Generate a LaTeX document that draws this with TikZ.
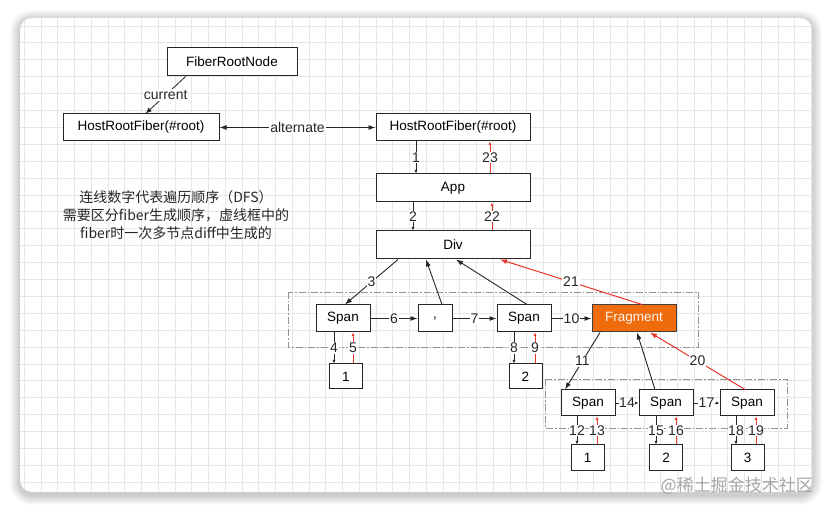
\documentclass[tikz,border=0pt]{standalone}
\usepackage{fontspec}
\setmainfont{Liberation Sans}
\newfontfamily\cjk{Noto Sans CJK SC}
\usetikzlibrary{arrows.meta,calc}
\definecolor{redl}{HTML}{E8332A}
\definecolor{frag}{HTML}{EE6C0C}
\definecolor{gridc}{HTML}{E6E6E6}
\begin{document}
\begin{tikzpicture}[x=1pt,y=-1pt,
  box/.style={draw=black!85, line width=1pt, fill=white, inner sep=0pt,
    font=\fontsize{13.5}{15}\selectfont, minimum height=27pt},
  lbl/.style={fill=white, inner sep=1pt, font=\fontsize{14}{15}\selectfont, text=black!85},
  blk/.style={draw=black!85, line width=0.9pt, -{Latex[length=7pt,width=5pt]}},
  sm/.style={draw=black!85, line width=0.8pt, -{Latex[length=3.5pt,width=3pt]}},
  rd/.style={draw=redl, line width=0.8pt, -{Latex[length=3.5pt,width=3pt]}},
  rdbig/.style={draw=redl, line width=1pt, -{Latex[length=7pt,width=5pt]}},
  dd/.style={draw=gray!85, dash pattern=on 7pt off 2pt on 1.5pt off 2pt, line width=0.8pt}
]
\useasboundingbox (0,0) rectangle (831,510);
\fill[white] (0,0) rectangle (831,510);
% shadow
\foreach \i in {1,...,10}{
  \fill[black, opacity=0.02, rounded corners={12pt+\i pt}] ({20-\i},{18-\i+2}) rectangle ({812+\i},{492+\i+3});
}
\fill[white, rounded corners=12pt] (20,18) rectangle (812,492);
\begin{scope}
  \clip[rounded corners=12pt] (20,18) rectangle (812,492);
  \foreach \k in {0,...,47}{
    \draw[gridc, line width=0.8pt] ({24.3+16.75*\k},18) -- ++(0,474);
  }
  \foreach \k in {0,...,28}{
    \draw[gridc, line width=0.8pt] (20,{26+16.9*\k}) -- ++(792,0);
  }
\end{scope}

% dashed groups
\draw[dd] (288,292) rectangle (698,347);
\draw[dd] (545,379) rectangle (787,428);

% nodes
\node[box, minimum width=130pt, minimum height=28pt] (frn) at (232,62) {FiberRootNode};
\node[box, minimum width=156pt] (hrfL) at (141,127.5) {HostRootFiber(\#root)};
\node[box, minimum width=154pt] (hrfR) at (453,127.5) {HostRootFiber(\#root)};
\node[box, minimum width=154pt, minimum height=28pt] (app) at (453,188) {App};
\node[box, minimum width=154pt, minimum height=28pt] (div) at (453,245) {Div};
\node[box, minimum width=54pt] (s1) at (343,318.5) {Span};
\node[box, minimum width=34pt] (cm) at (435,318.5) {,};
\node[box, minimum width=54pt] (s2) at (524,318.5) {Span};
\node[box, minimum width=84pt, fill=frag, draw=black!75, text=white!92!frag] (fr) at (634,318.5) {Fragment};
\node[box, minimum width=33pt, minimum height=25pt] (b1) at (346,376.5) {1};
\node[box, minimum width=33pt, minimum height=25pt] (b2) at (525.5,376.5) {2};
\node[box, minimum width=54pt, minimum height=26pt] (s3) at (588,403) {Span};
\node[box, minimum width=54pt, minimum height=26pt] (s4) at (666,403) {Span};
\node[box, minimum width=54pt, minimum height=26pt] (s5) at (747,403) {Span};
\node[box, minimum width=33pt, minimum height=26pt] (c1) at (587.5,458) {1};
\node[box, minimum width=33pt, minimum height=26pt] (c2) at (666,458) {2};
\node[box, minimum width=33pt, minimum height=26pt] (c3) at (747.5,458) {3};

% annotation
\node[align=center, font=\cjk\fontsize{14}{18}\selectfont, text=black!85] (note) at (176,215)
  {连线数字代表遍历顺序（DFS）\\需要区分fiber生成顺序，虚线框中的\\fiber时一次多节点diff中生成的};

% top connectors
\draw[sm, -{Latex[length=6pt,width=5pt]}] ($(frn.south west)!0.146!(frn.south east)$) -- ($(hrfL.north west)!0.53!(hrfL.north east)$)
  node[lbl, midway] {current};
\draw[blk, {Latex[length=7pt,width=5pt]}-{Latex[length=7pt,width=5pt]}] (hrfL.east) -- (hrfR.west)
  node[lbl, pos=0.5] {alternate};

% vertical spine
\draw[sm] ([xshift=-37pt]hrfR.south) -- ([xshift=-37pt]app.north) node[lbl, midway] {1};
\draw[rd] ([xshift=37pt]app.north) -- ([xshift=37pt]hrfR.south) node[lbl, midway] {23};
\draw[sm] ([xshift=-40pt]app.south) -- ([xshift=-40pt]div.north) node[lbl, midway] {2};
\draw[rd] ([xshift=39pt]div.north) -- ([xshift=39pt]app.south) node[lbl, midway] {22};

% Div children
\draw[blk] ([xshift=-55pt]div.south) -- ([xshift=2pt]s1.north) node[lbl, midway] {3};
\draw[blk] ([xshift=7pt]cm.north) -- ([xshift=-27pt]div.south);
\draw[blk] ([xshift=3pt]s2.north) -- ([xshift=3pt]div.south);
\draw[rdbig] ([xshift=8pt]fr.north) -- ([xshift=47pt]div.south) node[lbl, midway] {21};

\draw[blk] (s1.east) -- (cm.west) node[lbl, midway] {6};
\draw[blk] (cm.east) -- (s2.west) node[lbl, midway] {7};
\draw[blk] (s2.east) -- (fr.west) node[lbl, midway] {10};

\draw[sm] ([xshift=-9pt]s1.south) -- ([xshift=-12pt]b1.north) node[lbl, midway] {4};
\draw[rd] ([xshift=7pt]b1.north) -- ([xshift=10pt]s1.south) node[lbl, midway] {5};
\draw[sm] ([xshift=-10pt]s2.south) -- ([xshift=-11.5pt]b2.north) node[lbl, midway] {8};
\draw[rd] ([xshift=9.5pt]b2.north) -- ([xshift=11pt]s2.south) node[lbl, midway] {9};

% Fragment children
\draw[blk] ([xshift=-34pt]fr.south) -- ([xshift=-23pt]s3.north) node[lbl, midway] {11};
\draw[blk] ([xshift=-11pt]s4.north) -- ([xshift=3pt]fr.south);
\draw[rdbig] ([xshift=-2pt]s5.north) -- ([xshift=16pt]fr.south) node[lbl, midway] {20};

\draw[sm] (s3.east) -- (s4.west) node[lbl, midway, inner sep=0.3pt] {14};
\draw[sm] (s4.east) -- (s5.west) node[lbl, midway, inner sep=0.3pt] {17};

\draw[sm] ([xshift=-11pt]s3.south) -- ([xshift=-10.5pt]c1.north) node[lbl, midway, inner sep=0.3pt] {12};
\draw[rd] ([xshift=9.5pt]c1.north) -- ([xshift=9pt]s3.south) node[lbl, midway, inner sep=0.3pt] {13};
\draw[sm] ([xshift=-10pt]s4.south) -- ([xshift=-10pt]c2.north) node[lbl, midway, inner sep=0.3pt] {15};
\draw[rd] ([xshift=10pt]c2.north) -- ([xshift=10pt]s4.south) node[lbl, midway, inner sep=0.3pt] {16};
\draw[sm] ([xshift=-11pt]s5.south) -- ([xshift=-11.5pt]c3.north) node[lbl, midway, inner sep=0.3pt] {18};
\draw[rd] ([xshift=8.5pt]c3.north) -- ([xshift=9pt]s5.south) node[lbl, midway, inner sep=0.3pt] {19};

% watermark
\node[font=\cjk\fontsize{17}{18}\selectfont, text=black!35, anchor=east, inner sep=0pt] (wm) at (813,486) {@稀土掘金技术社区};
\end{tikzpicture}
\end{document}
